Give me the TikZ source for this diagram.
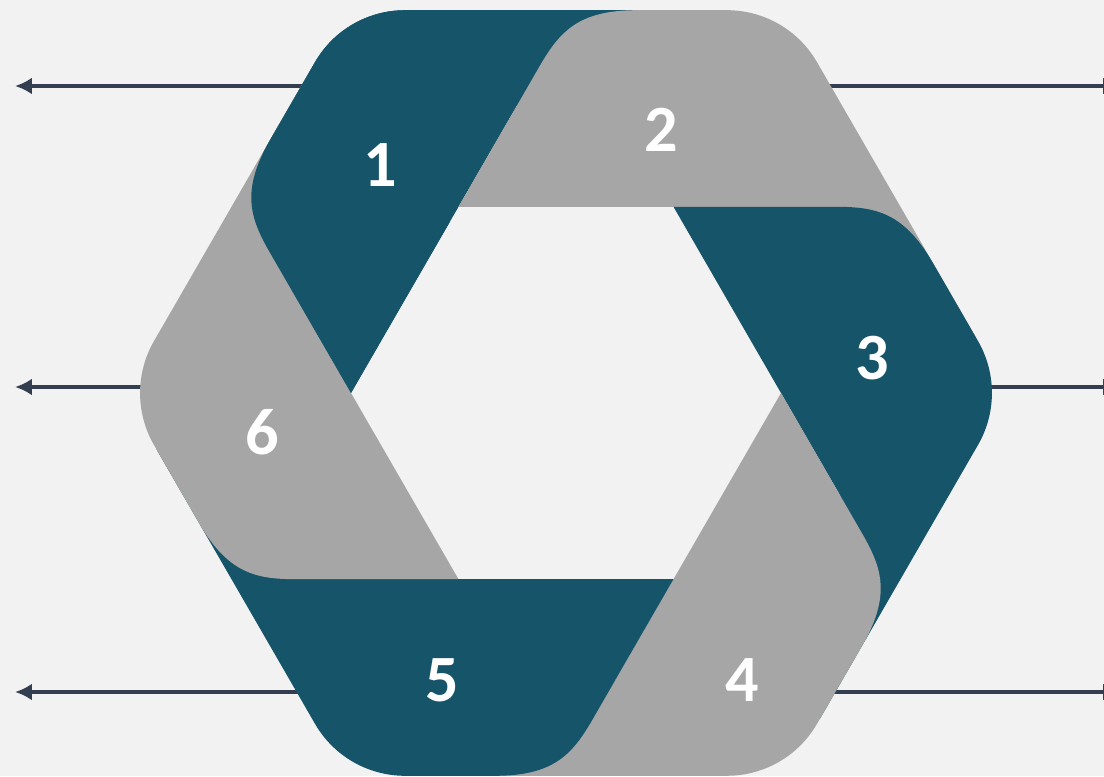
\documentclass[tikz,border=0pt]{standalone}
\usepackage{fontspec}
\setmainfont{Carlito}
\usetikzlibrary{arrows.meta}
\definecolor{hx-dark}{HTML}{16546A}
\definecolor{hx-gray}{HTML}{A6A6A6}
\definecolor{hx-bg}{HTML}{F2F2F2}
\definecolor{hx-line}{HTML}{333F50}

\begin{document}
\begin{tikzpicture}[
    x=0.025cm, y=0.025cm,
    dark/.style={fill=hx-dark},
    light/.style={fill=hx-gray},
    conn/.style={-{Latex[length=0.42cm,width=0.42cm]}, draw=hx-line, line width=2.8pt},
    num/.style={text=white, inner sep=0pt, font=\fontsize{47}{56}\selectfont\bfseries}
]

% =========================================================================
% FUNDO E MOLDURA
% =========================================================================
\useasboundingbox (-566,-383) rectangle (538,393);
\fill[hx-bg] (-566,-383) rectangle (538,393);

% =========================================================================
% SETAS LATERAIS (por trás do hexágono)
% =========================================================================
\coordinate (l1s) at (-200,307);  \coordinate (l1) at (-551,307);
\coordinate (l2s) at (-300,6);    \coordinate (l2) at (-551,6);
\coordinate (l3s) at (-200,-299); \coordinate (l3) at (-551,-299);
\coordinate (r1s) at (200,307);   \coordinate (r1) at (554,307);
\coordinate (r2s) at (300,6);     \coordinate (r2) at (554,6);
\coordinate (r3s) at (200,-299);  \coordinate (r3) at (554,-299);

\draw[conn] (l1s) -- (l1);
\draw[conn] (l2s) -- (l2);
\draw[conn] (l3s) -- (l3);
\draw[conn] (r1s) -- (r1);
\draw[conn] (r2s) -- (r2);
\draw[conn] (r3s) -- (r3);

% =========================================================================
% SEGMENTOS DO ANEL (cada um girado 60 graus)
% =========================================================================
\fill[dark, rotate=60] (-107.5,186.2) -- (-26.5,326.5) .. controls (-6.4,361.3) and (-12.4+24.8,382.8) .. (71,382.8) -- (161,382.8) .. controls (198.1,382.8) and (232.45,363.0) .. (251,330.8) -- (409.5,56.3) -- (224.5,186.2) -- cycle;
\fill[light, rotate=0] (-107.5,186.2) -- (-26.5,326.5) .. controls (-6.4,361.3) and (-12.4+24.8,382.8) .. (71,382.8) -- (161,382.8) .. controls (198.1,382.8) and (232.45,363.0) .. (251,330.8) -- (409.5,56.3) -- (224.5,186.2) -- cycle;
\fill[dark, rotate=-60] (-107.5,186.2) -- (-26.5,326.5) .. controls (-6.4,361.3) and (-12.4+24.8,382.8) .. (71,382.8) -- (161,382.8) .. controls (198.1,382.8) and (232.45,363.0) .. (251,330.8) -- (409.5,56.3) -- (224.5,186.2) -- cycle;
\fill[light, rotate=-120] (-107.5,186.2) -- (-26.5,326.5) .. controls (-6.4,361.3) and (-12.4+24.8,382.8) .. (71,382.8) -- (161,382.8) .. controls (198.1,382.8) and (232.45,363.0) .. (251,330.8) -- (409.5,56.3) -- (224.5,186.2) -- cycle;
\fill[dark, rotate=-180] (-107.5,186.2) -- (-26.5,326.5) .. controls (-6.4,361.3) and (-12.4+24.8,382.8) .. (71,382.8) -- (161,382.8) .. controls (198.1,382.8) and (232.45,363.0) .. (251,330.8) -- (409.5,56.3) -- (224.5,186.2) -- cycle;
\fill[light, rotate=-240] (-107.5,186.2) -- (-26.5,326.5) .. controls (-6.4,361.3) and (-12.4+24.8,382.8) .. (71,382.8) -- (161,382.8) .. controls (198.1,382.8) and (232.45,363.0) .. (251,330.8) -- (409.5,56.3) -- (224.5,186.2) -- cycle;

% ponta do segmento 1 volta por cima do segmento 6
\begin{scope}
  \clip (-566,0) rectangle (-116,393);
  \fill[dark, rotate=60] (-107.5,186.2) -- (-26.5,326.5) .. controls (-6.4,361.3) and (-12.4+24.8,382.8) .. (71,382.8) -- (161,382.8) .. controls (198.1,382.8) and (232.45,363.0) .. (251,330.8) -- (409.5,56.3) -- (224.5,186.2) -- cycle;
\end{scope}

% =========================================================================
% NUMERAÇÃO
% =========================================================================
\node[num] (n1) at (-186,228) {1};
\node[num] (n2) at (95,263) {2};
\node[num] (n3) at (306,35) {3};
\node[num] (n4) at (176,-287) {4};
\node[num] (n5) at (-124,-287) {5};
\node[num] (n6) at (-304,-39) {6};

\end{tikzpicture}
\end{document}
